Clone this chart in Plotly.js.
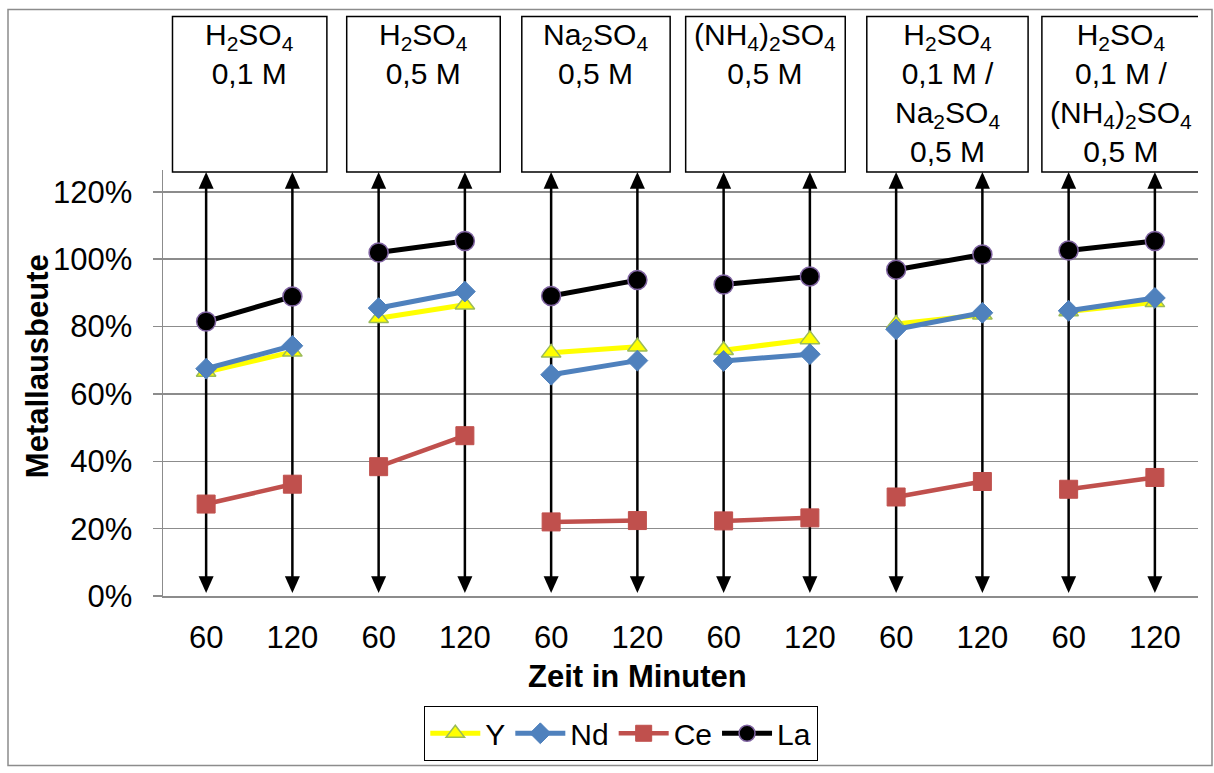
<!DOCTYPE html>
<html>
<head>
<meta charset="utf-8">
<script src="https://cdn.plot.ly/plotly-3.0.1.min.js"></script>
<style>
  html, body { margin: 0; padding: 0; background: #ffffff; }
  #chart { width: 1214px; height: 773px; }
</style>
</head>
<body>
<div id="chart"></div>
<script>
// Leaching time per run (minutes), two runs per solution
const timeLabels = ['60', '120', '60', '120', '60', '120', '60', '120', '60', '120', '60', '120'];

// Leaching solutions, one per pair of runs
const solutionLabels = [
  'H<sub>2</sub>SO<sub>4</sub><br>0,1 M',
  'H<sub>2</sub>SO<sub>4</sub><br>0,5 M',
  'Na<sub>2</sub>SO<sub>4</sub><br>0,5 M',
  '(NH<sub>4</sub>)<sub>2</sub>SO<sub>4</sub><br>0,5 M',
  'H<sub>2</sub>SO<sub>4</sub><br>0,1 M /<br>Na<sub>2</sub>SO<sub>4</sub><br>0,5 M',
  'H<sub>2</sub>SO<sub>4</sub><br>0,1 M /<br>(NH<sub>4</sub>)<sub>2</sub>SO<sub>4</sub><br>0,5 M'
];

// Metal yield (fraction) per run
const yieldY  = [0.665, 0.725, 0.825, 0.865, 0.722, 0.740, 0.730, 0.762, 0.808, 0.835, 0.845, 0.872];
const yieldNd = [0.675, 0.743, 0.855, 0.904, 0.657, 0.699, 0.698, 0.718, 0.792, 0.841, 0.847, 0.885];
const yieldCe = [0.273, 0.332, 0.384, 0.476, 0.220, 0.224, 0.223, 0.232, 0.294, 0.340, 0.317, 0.352];
const yieldLa = [0.815, 0.889, 1.020, 1.054, 0.891, 0.938, 0.925, 0.949, 0.969, 1.014, 1.026, 1.054];

const yTicks = [0, 0.2, 0.4, 0.6, 0.8, 1.0, 1.2];

// ---- geometry helpers ----
const W = 1214, H = 773;
const M = { l: 163, r: 16, t: 170, b: 173 };
const plotW = W - M.l - M.r;
const plotH = H - M.t - M.b;
const yMax = 1.265;
const nCat = timeLabels.length;
const runsPerSolution = 2;
const xRange = [-0.5, nCat - 0.5];
const pxPerCat = plotW / nCat;
const pxPerUnit = plotH / yMax;
const paperX = p => (p - M.l) / plotW;
const paperY = p => (H - M.b - p) / plotH;

const FONT = 'Liberation Sans, Arial, Helvetica, sans-serif';
const GRID = '#8c8c8c';
const xIdx = timeLabels.map((_, i) => i);
const boundaries = Array.from({ length: nCat + 1 }, (_, i) => i - 0.5);

// break the line between solutions: only runs of the same solution are joined
function splitBySolution(vals) {
  const out = [];
  vals.forEach((v, i) => {
    out.push(v);
    if (i % runsPerSolution === runsPerSolution - 1 && i < vals.length - 1) out.push(null);
  });
  return out;
}
const xSplit = splitBySolution(xIdx);

// ---- series ----
const traces = [
  {
    name: 'Y', y: splitBySolution(yieldY),
    line: { color: '#FFFF00', width: 5 },
    marker: { symbol: 'triangle-up', size: 17, color: '#FFFF00', line: { color: '#9BBB59', width: 1.5 } }
  },
  {
    name: 'Nd', y: splitBySolution(yieldNd),
    line: { color: '#4F81BD', width: 5 },
    marker: { symbol: 'diamond', size: 16, color: '#4F81BD', line: { color: '#4F81BD', width: 1 } }
  },
  {
    name: 'Ce', y: splitBySolution(yieldCe),
    line: { color: '#C0504D', width: 4.5 },
    marker: { symbol: 'square', size: 18, color: '#C0504D', line: { color: '#C0504D', width: 1 } }
  },
  {
    name: 'La', y: splitBySolution(yieldLa),
    line: { color: '#000000', width: 5 },
    marker: { symbol: 'circle', size: 19, color: '#000000', line: { color: '#8064A2', width: 1.5 } }
  }
].map(t => Object.assign({
  x: xSplit, mode: 'lines+markers', connectgaps: false,
  xaxis: 'x', yaxis: 'y', hoverinfo: 'skip', cliponaxis: false
}, t));

// ---- shapes: outer frame, double arrows, solution boxes ----
const shapes = [];

shapes.push({
  type: 'rect', xref: 'paper', yref: 'paper', layer: 'below',
  x0: paperX(8), x1: paperX(1212), y0: paperY(8), y1: paperY(771),
  line: { color: GRID, width: 1.5 }, fillcolor: 'rgba(0,0,0,0)'
});

const arrowTop = (H - M.b - 172) / pxPerUnit;
const arrowBot = 3 / pxPerUnit;
const headHalfW = 7.5 / pxPerCat;
const headLen = 17 / pxPerUnit;
xIdx.forEach(i => {
  shapes.push({
    type: 'line', xref: 'x', yref: 'y', layer: 'between',
    x0: i, x1: i, y0: arrowBot + headLen * 0.5, y1: arrowTop - headLen * 0.5,
    line: { color: '#000000', width: 2.5 }
  });
  shapes.push({
    type: 'path', xref: 'x', yref: 'y', layer: 'between',
    path: `M${i - headHalfW},${arrowTop - headLen} L${i},${arrowTop} L${i + headHalfW},${arrowTop - headLen} Z`,
    fillcolor: '#000000', line: { width: 0 }
  });
  shapes.push({
    type: 'path', xref: 'x', yref: 'y', layer: 'between',
    path: `M${i - headHalfW},${arrowBot + headLen} L${i},${arrowBot} L${i + headHalfW},${arrowBot + headLen} Z`,
    fillcolor: '#000000', line: { width: 0 }
  });
});

// box extents in category units
const boxSpans = [[-0.39, 1.40], [1.63, 3.41], [3.66, 5.38], [5.56, 7.41], [7.66, 9.53], [9.69, 11.52]];
const annotations = [];
boxSpans.forEach((s, k) => {
  shapes.push({
    type: 'rect', xref: 'x', yref: 'paper', layer: 'above',
    x0: s[0], x1: s[1], y0: paperY(172), y1: paperY(15),
    line: { color: '#000000', width: 1.5 }, fillcolor: '#ffffff'
  });
  annotations.push({
    xref: 'x', yref: 'paper', x: (s[0] + s[1]) / 2, y: paperY(15),
    xanchor: 'center', yanchor: 'top', showarrow: false,
    text: solutionLabels[k], align: 'center',
    font: { family: FONT, size: 30, color: '#000000' }
  });
});

annotations.push({
  xref: 'paper', yref: 'paper', x: paperX(637), y: paperY(681),
  xanchor: 'center', yanchor: 'middle', showarrow: false,
  text: '<b>Zeit in Minuten</b>',
  font: { family: FONT, size: 31, color: '#000000' }
});
annotations.push({
  xref: 'paper', yref: 'paper', x: paperX(37), y: paperY(368),
  xanchor: 'center', yanchor: 'middle', showarrow: false, textangle: -90,
  text: '<b>Metallausbeute</b>',
  font: { family: FONT, size: 31, color: '#000000' }
});

const layout = {
  width: W, height: H,
  margin: M,
  paper_bgcolor: '#ffffff', plot_bgcolor: '#ffffff',
  font: { family: FONT, size: 30, color: '#000000' },
  showlegend: true,
  legend: {
    orientation: 'h', x: paperX(621), xanchor: 'center', y: paperY(711), yanchor: 'top',
    bordercolor: '#000000', borderwidth: 1.3, bgcolor: '#ffffff',
    itemwidth: 50, tracegroupgap: 0,
    font: { family: FONT, size: 30, color: '#000000' }
  },
  xaxis: {
    range: xRange, tickvals: xIdx, ticktext: timeLabels, ticks: '',
    showgrid: false, zeroline: false, showline: true, linecolor: GRID, linewidth: 1.5,
    tickfont: { family: FONT, size: 31, color: '#000000' }, ticklabelstandoff: 13,
    fixedrange: true
  },
  xaxis2: {
    overlaying: 'x', anchor: 'y', side: 'bottom', range: xRange,
    tickvals: boundaries, showticklabels: false,
    ticks: 'outside', ticklen: 9, tickcolor: GRID, tickwidth: 1.5,
    showgrid: true, gridcolor: GRID, gridwidth: 1.5,
    showline: false, zeroline: false, fixedrange: true
  },
  yaxis: {
    range: [0, yMax], tickvals: yTicks, tickformat: '.0%',
    ticks: 'outside', ticklen: 9, tickcolor: GRID, tickwidth: 1.5,
    showline: true, linecolor: GRID, linewidth: 1.5,
    showgrid: true, gridcolor: GRID, gridwidth: 1.5, zeroline: false,
    tickfont: { family: FONT, size: 31, color: '#000000' }, ticklabelstandoff: 14,
    fixedrange: true
  },
  shapes: shapes,
  annotations: annotations
};

Plotly.newPlot('chart', traces, layout, { displayModeBar: false, staticPlot: true });
</script>
</body>
</html>
